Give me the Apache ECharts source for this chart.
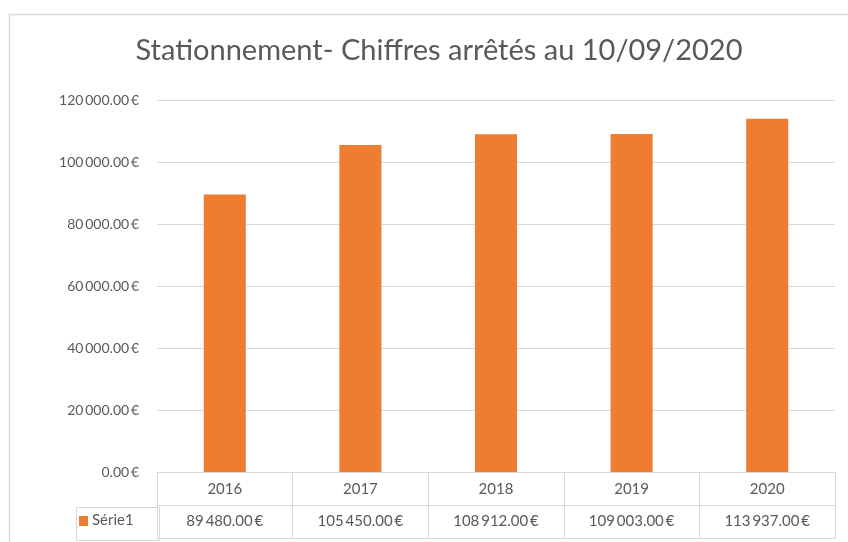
<!DOCTYPE html>
<html>
<head>
<meta charset="utf-8">
<script src="https://cdn.jsdelivr.net/npm/echarts@6/dist/echarts.min.js"></script>
<style>
  html, body { margin: 0; padding: 0; background: #fff; }
  #chart { width: 848px; height: 542px; }
</style>
</head>
<body>
<div id="chart"></div>
<script>
// données
const years = ["2016", "2017", "2018", "2019", "2020"];
const values = [89480, 105450, 108912, 109003, 113937];
const seriesName = "Série1";
const yTicks = [0, 20000, 40000, 60000, 80000, 100000, 120000];

const grey = "#d9d9d9";
const txt = "#595959";
const orange = "#ED7D31";
const font = "Lato";

// 105450 -> "105 450.00 €"
const fmt = (v) => {
  const parts = v.toFixed(2).split(".");
  const ent = parts[0].replace(/\B(?=(\d{3})+(?!\d))/g, "\u2009");
  return ent + "." + parts[1] + "\u2009€";
};

const chart = echarts.init(document.getElementById("chart"));

const option = {
  animation: false,
  title: {
    text: "Stationnement- Chiffres arrêtés au 10/09/2020",
    left: 434,
    textAlign: "center",
    top: 31,
    textStyle: { fontFamily: font, fontSize: 29, fontWeight: "normal", color: txt },
  },
  grid: { left: 157, right: 13, top: 100, bottom: 70 },
  xAxis: [
    {
      type: "category",
      data: years,
      position: "bottom",
      axisLine: { show: true, lineStyle: { color: grey } },
      // traits verticaux du tableau
      axisTick: { show: true, length: 66, lineStyle: { color: grey } },
      axisLabel: { color: txt, fontFamily: font, fontSize: 15, margin: 10 },
    },
    {
      type: "category",
      data: years,
      position: "bottom",
      offset: 33,
      axisLine: { show: true, lineStyle: { color: grey } },
      axisTick: { show: false },
      axisLabel: {
        color: txt, fontFamily: font, fontSize: 15, margin: 9,
        formatter: (v, i) => fmt(values[i]),
      },
    },
    {
      type: "category",
      data: years,
      position: "bottom",
      offset: 66,
      axisLine: { show: true, lineStyle: { color: grey } },
      axisTick: { show: false },
      axisLabel: { show: false },
    },
  ],
  yAxis: {
    type: "value",
    min: yTicks[0],
    max: yTicks[yTicks.length - 1],
    interval: 20000,
    axisLine: { show: false },
    axisTick: { show: false },
    splitLine: { lineStyle: { color: grey, width: 1 } },
    axisLabel: {
      color: txt, fontFamily: font, fontSize: 14, margin: 18,
      formatter: (v) => fmt(v),
    },
  },
  series: [
    {
      name: seriesName,
      type: "bar",
      data: values,
      barWidth: "31%",
      itemStyle: { color: orange },
    },
  ],
  graphic: [
    // cadre du graphique
    {
      type: "rect", left: 7, top: 12, silent: true,
      shape: { width: 900, height: 600 },
      style: { fill: null, stroke: grey, lineWidth: 1.5 },
    },
    // case légende
    {
      type: "rect", left: 74, top: 505, silent: true,
      shape: { width: 83, height: 33 },
      style: { fill: null, stroke: grey, lineWidth: 1 },
    },
    {
      type: "rect", left: 79, top: 516, silent: true,
      shape: { width: 9, height: 10 },
      style: { fill: orange },
    },
    {
      type: "text", left: 92, top: 513, silent: true,
      style: { text: seriesName, fill: txt, font: "15px " + font },
    },
  ],
};

chart.setOption(option);
</script>
</body>
</html>
